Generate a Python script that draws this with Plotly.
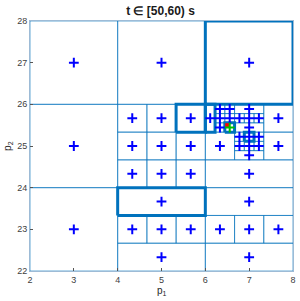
import plotly.graph_objects as go

# Leaf boxes of the partition: p1 range [x0,x1], p2 range [y0,y1], highlighted flag
box_x0 = [2, 2, 2, 4, 6,
          4, 4, 4.667, 5.333, 4,
          6, 6, 6.667, 7.333, 6,
          4, 4.667, 5.333, 4, 4.667, 5.333, 4, 4.667, 5.333,
          6, 6, 6.667, 6.667, 6.889, 7.111, 6.667, 6.889, 7.111, 7.333, 7.333,
          6.667, 6.667, 6.889, 7.111, 6.667,
          6, 6.222, 6.222, 6.222, 6.444, 6.444, 6.444]
box_x1 = [4, 4, 4, 6, 8,
          6, 4.667, 5.333, 6, 6,
          8, 6.667, 7.333, 8, 8,
          4.667, 5.333, 6, 4.667, 5.333, 6, 4.667, 5.333, 6,
          8, 6.667, 7.333, 6.889, 7.111, 7.333, 6.889, 7.111, 7.333, 8, 8,
          7.333, 6.889, 7.111, 7.333, 7.333,
          6.222, 6.444, 6.444, 6.444, 6.667, 6.667, 6.667]
box_y0 = [22, 24, 26, 26, 26,
          23.333, 22.667, 22.667, 22.667, 22,
          23.333, 22.667, 22.667, 22.667, 22,
          24, 24, 24, 24.667, 24.667, 24.667, 25.333, 25.333, 25.333,
          24, 24.667, 24.667, 24.889, 24.889, 24.889, 25.111, 25.111, 25.111, 24.667, 25.333,
          25.778, 25.556, 25.556, 25.556, 25.333,
          25.333, 25.778, 25.556, 25.333, 25.778, 25.556, 25.333]
box_y1 = [24, 26, 28, 28, 28,
          24, 23.333, 23.333, 23.333, 22.667,
          24, 23.333, 23.333, 23.333, 22.667,
          24.667, 24.667, 24.667, 25.333, 25.333, 25.333, 26, 26, 26,
          24.667, 25.333, 24.889, 25.111, 25.111, 25.111, 25.333, 25.333, 25.333, 25.333, 26,
          26, 25.778, 25.778, 25.778, 25.556,
          26, 26, 25.778, 25.556, 26, 25.778, 25.556]
box_thick = [0, 0, 0, 0, 1,
             1, 0, 0, 0, 0,
             0, 0, 0, 0, 0,
             0, 0, 0, 0, 0, 0, 0, 0, 1,
             0, 0, 0, 0, 0, 0, 0, 1, 0, 0, 0,
             0, 0, 0, 0, 0,
             1, 0, 0, 0, 0, 0, 1]

# Sample points (box centres), blue plus
pt_p1 = [3, 3, 3, 5, 7,
         5, 4.333, 5, 5.667, 5,
         7, 6.333, 7, 7.667, 7,
         4.333, 5, 5.667, 4.333, 5, 5.667, 4.333, 5, 5.667,
         7, 6.333, 7, 6.778, 7, 7.222, 6.778, 7, 7.222, 7.667, 7.667,
         7, 6.778, 7, 7.222, 7,
         6.111, 6.333, 6.333, 6.333, 6.556, 6.556]
pt_p2 = [23, 25, 27, 27, 27,
         23.667, 23, 23, 23, 22.333,
         23.667, 23, 23, 23, 22.333,
         24.333, 24.333, 24.333, 25, 25, 25, 25.667, 25.667, 25.667,
         24.333, 25, 24.778, 25, 25, 25, 25.222, 25.222, 25.222, 25, 25.667,
         25.889, 25.667, 25.667, 25.667, 25.444,
         25.667, 25.889, 25.667, 25.444, 25.889, 25.667]

# Special markers
best_p1 = [6.556]
best_p2 = [25.444]
true_p1 = [6.5]
true_p2 = [25.5]

title_text = "t \u2208 [50,60) s"
xlabel = "p<sub>1</sub>"
ylabel = "p<sub>2</sub>"


def outline(flags, want):
    xs, ys = [], []
    for a, b, c, d, f in zip(box_x0, box_x1, box_y0, box_y1, flags):
        if f == want:
            xs += [a, b, b, a, a, None]
            ys += [c, c, d, d, c, None]
    return xs, ys


fig = go.Figure()
tx, ty = outline(box_thick, 0)
fig.add_trace(go.Scatter(x=tx, y=ty, mode="lines", cliponaxis=False,
                         line=dict(color="rgba(0,114,189,0.6)", width=1), hoverinfo="skip"))
kx, ky = outline(box_thick, 1)
fig.add_trace(go.Scatter(x=kx, y=ky, mode="lines", cliponaxis=False,
                         line=dict(color="#0072BD", width=3), hoverinfo="skip"))
fig.add_trace(go.Scatter(x=pt_p1, y=pt_p2, mode="markers", cliponaxis=False,
                         marker=dict(symbol="cross-thin", size=7,
                                     line=dict(color="#0000FF", width=2))))
fig.add_trace(go.Scatter(x=true_p1, y=true_p2, mode="markers", cliponaxis=False,
                         marker=dict(symbol="square", size=4, color="#FF0000")))
fig.add_trace(go.Scatter(x=best_p1, y=best_p2, mode="markers", cliponaxis=False,
                         marker=dict(symbol="cross-thin", size=7,
                                     line=dict(color="#00C000", width=2))))

axis_common = dict(showgrid=False, zeroline=False, showline=True, mirror=True, automargin=False,
                   linecolor="#9dbbd6", linewidth=1, ticks="inside", ticklen=3,
                   tickcolor="#555555", tickfont=dict(family="Liberation Sans", size=9, color="#404040"))

fig.update_layout(
    width=300, height=301,
    margin=dict(l=30, r=7, t=21, b=30),
    plot_bgcolor="white", paper_bgcolor="white",
    showlegend=False,
    title=dict(text="<b>" + title_text + "</b>", x=0.535, xanchor="center", y=0.963, yanchor="middle",
               font=dict(family="Liberation Sans", size=12, color="#1a1a1a")),
    xaxis=dict(range=[2, 8], tickvals=[2, 3, 4, 5, 6, 7, 8], **axis_common),
    yaxis=dict(range=[22, 28], tickvals=[22, 23, 24, 25, 26, 27, 28], **axis_common),
    annotations=[
        dict(text=xlabel, xref="paper", yref="paper", x=0.5, y=-0.078, xanchor="center",
             yanchor="middle", showarrow=False,
             font=dict(family="Liberation Sans", size=10, color="#262626")),
        dict(text=ylabel, xref="paper", yref="paper", x=-0.084, y=0.5, xanchor="center",
             yanchor="middle", showarrow=False, textangle=-90,
             font=dict(family="Liberation Sans", size=10, color="#262626")),
    ],
)

fig.write_html("out.html", config={"displayModeBar": False},
               post_script="document.body.style.margin='0px';document.body.style.overflow='hidden';")
